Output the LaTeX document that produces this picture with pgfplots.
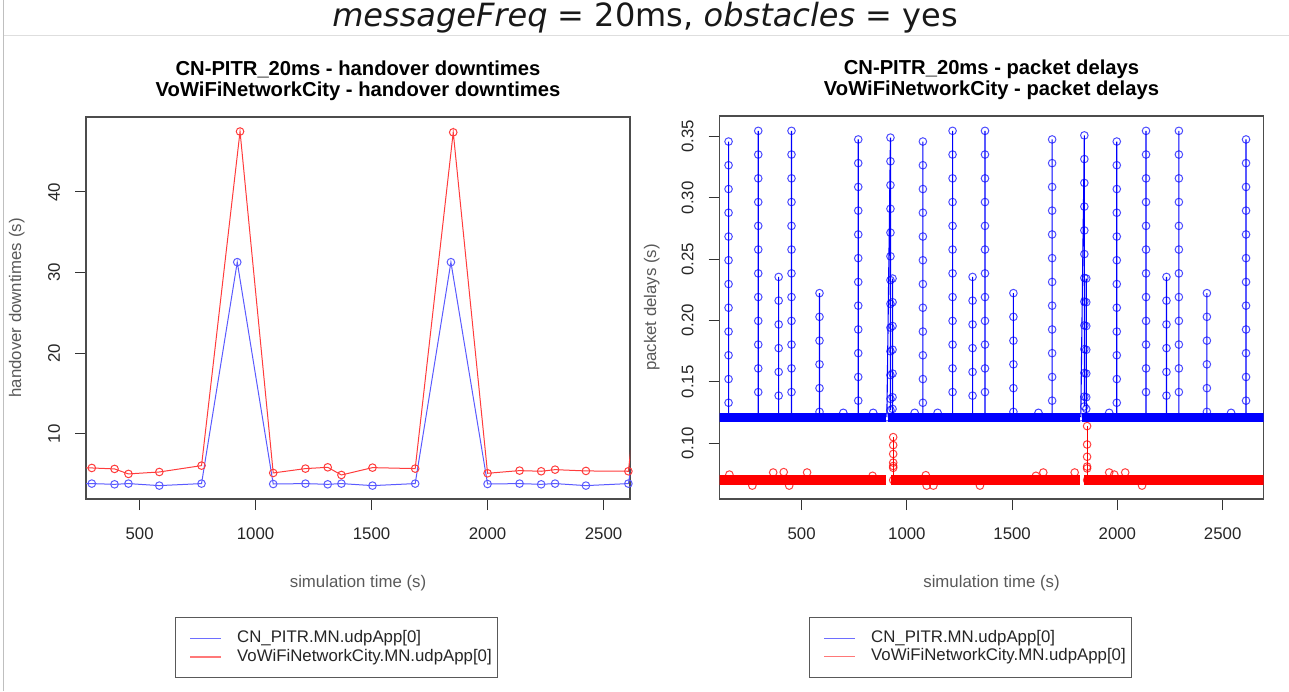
\documentclass[border=0pt]{standalone}
\usepackage{pgfplots}
\pgfplotsset{compat=1.18}
\usepackage{fontspec}
\setmainfont{Liberation Sans}
\newfontfamily\titlefont{DejaVu Sans}[ItalicFont={DejaVu Sans Oblique}]
\definecolor{rblue}{RGB}{0,0,255}
\definecolor{rred}{RGB}{255,0,0}
\definecolor{lblue}{RGB}{90,90,255}
\definecolor{lred}{RGB}{255,60,60}
\definecolor{legblue}{RGB}{110,110,255}
\definecolor{legred}{RGB}{255,120,120}
\pgfplotsset{
 rplot/.style={
  scale only axis, width=544pt, anchor=south west,
  tick pos=left, tick align=outside, major tick length=11pt,
  tick style={black!80, line width=1pt},
  axis line style={black!70, line width=1.2pt},
  scaled ticks=false,
  /pgf/number format/assume math mode=true,
  /pgf/number format/1000 sep={},
  tick label style={font=\fontsize{16.8}{20}\selectfont, text=black!85},
  xticklabel style={anchor=center}, xticklabel shift=24pt,
  yticklabel style={rotate=90, anchor=center}, yticklabel shift=21pt,
  label style={font=\fontsize{16.8}{20}\selectfont, text=black!65},
  title style={font=\fontsize{20.2}{21}\selectfont\bfseries, align=center, anchor=center},
  xtick={500,1000,1500,2000,2500},
  legend image code/.code={\path (-8.3pt,0pt); \draw[##1] (0pt,0pt) -- (31pt,0pt);},
  legend cell align=left,
  legend style={anchor=north west, draw=black!65, line width=0.9pt, inner xsep=6pt, inner ysep=12.6pt, row sep=2.6pt,
    font=\fontsize{16.8}{19}\selectfont, text=black!85,
    nodes={inner sep=0pt, text height=12.2pt, text depth=3.6pt},
    /tikz/every odd column/.append style={column sep=15pt}},
  unbounded coords=jump,
 }
}
\begin{document}
\begin{tikzpicture}
\path[use as bounding box] (0,0) rectangle (1289pt,691pt);
\draw[black!25, line width=1pt] (3pt,0pt) -- (3pt,691pt);
\draw[black!13, line width=1pt] (3.5pt,655pt) -- (1289pt,655pt);
\node[anchor=base, font=\titlefont\fontsize{32}{38}\selectfont, text=black!90] at (645pt,664pt) {\textit{messageFreq} = 20ms, \textit{obstacles} = yes};

% ---------------- left: handover downtimes ----------------
\begin{axis}[rplot, at={(86pt,192pt)}, height=382pt,
  xmin=269, xmax=2614, ymin=1.93, ymax=49.3, ytick={10,20,30,40},
  title={CN-PITR\_20ms - handover downtimes\\VoWiFiNetworkCity - handover downtimes},
  title style={at={(axis description cs:0.5,1.079)}},
  xlabel={simulation time (s)}, ylabel={handover downtimes (s)},
  xlabel style={at={(axis description cs:0.5,-0.219)}, anchor=center},
  ylabel style={at={(axis description cs:-0.1274,0.5)}, anchor=center},
  legend style={at={(axis description cs:0.1636,-0.3102)}}]
\addplot[forget plot, lblue, line width=1pt, mark=o, mark size=3.8pt, mark options={line width=1pt}] coordinates {
(153,3.80)(294,3.84)(392,3.75)(452,3.84)(585,3.59)(767,3.84)(921,31.3)(1076,3.79)(1215,3.84)(1311,3.75)(1370,3.84)(1504,3.59)(1688,3.84)(1842,31.3)(2000,3.79)(2138,3.84)(2231,3.75)(2291,3.84)(2424,3.59)(2607,3.84)(2765,31.3)};
\addplot[forget plot, lred, line width=1pt, mark=o, mark size=3.8pt, mark options={line width=1pt}] coordinates {
(153,5.80)(294,5.78)(392,5.66)(452,5.04)(585,5.28)(767,6.07)(933,47.5)(1076,5.16)(1215,5.70)(1311,5.86)(1370,4.91)(1504,5.82)(1688,5.70)(1852,47.4)(2000,5.12)(2138,5.45)(2231,5.37)(2291,5.57)(2424,5.41)(2607,5.37)(2770,47.5)};
\addlegendimage{legblue, line width=1.4pt}
\addlegendentry{CN\_PITR.MN.udpApp[0]}
\addlegendimage{legred, line width=1.4pt}
\addlegendentry{VoWiFiNetworkCity.MN.udpApp[0]}
\end{axis}

% ---------------- right: packet delays ----------------
\begin{axis}[rplot, at={(719.5pt,192pt)}, height=383pt,
  xmin=110, xmax=2694, ymin=0.0546, ymax=0.3666,
  ytick={0.10,0.15,0.20,0.25,0.30,0.35},
  yticklabel style={/pgf/number format/.cd, fixed, fixed zerofill, precision=2},
  title={CN-PITR\_20ms - packet delays\\VoWiFiNetworkCity - packet delays},
  title style={at={(axis description cs:0.5,1.0788)}},
  xlabel={simulation time (s)}, ylabel={packet delays (s)},
  xlabel style={at={(axis description cs:0.5,-0.2185)}, anchor=center},
  ylabel style={at={(axis description cs:-0.1246,0.5)}, anchor=center},
  legend style={at={(axis description cs:0.1645,-0.3089)}}]
% red baseline band
\addplot[forget plot, rred, line width=10pt] coordinates {
(100,0.0700)(900,0.0700)(900,nan)(926,0.0700)(1823,0.0700)(1823,nan)(1843,0.0700)(2710,0.0700)};
% red delayed bursts
\addplot[forget plot, rred, line width=1pt, mark=o, mark size=3.8pt, mark options={line width=1pt, opacity=0.75}] coordinates {
(935,0.0700)(935,0.1050)(935,0.0985)(935,0.0913)(935,0.0842)(935,0.0815)(935,0.0800)(935,nan)
(1856,0.0700)(1856,0.1140)(1856,0.0990)(1856,0.0890)(1856,0.0810)(1856,0.0795)};
% red scattered
\addplot[forget plot, only marks, rred, mark=o, mark size=3.8pt, mark options={line width=1pt, opacity=0.75}] coordinates {
(157,0.0745)(365,0.0762)(415,0.0765)(526,0.0762)(837,0.0735)(1090,0.0740)(1613,0.0735)(1648,0.0762)(1797,0.0762)(1961,0.0762)(1985,0.0745)(2037,0.0762)
(266,0.0655)(441,0.0655)(1094,0.0655)(1126,0.0655)(1347,0.0655)(2117,0.0655)};
% blue baseline band
\addplot[forget plot, rblue, line width=9.3pt] coordinates {
(100,0.1212)(903,0.1212)(903,nan)(911,0.1212)(1823,0.1212)(1823,nan)(1831,0.1212)(2710,0.1212)};
% blue small bumps
\addplot[forget plot, only marks, rblue, mark=o, mark size=3.8pt, mark options={line width=1pt, opacity=0.75}] coordinates {
(698,0.1248)(1037,0.1248)(1625,0.1248)(1961,0.1248)(2540,0.1248)(1146,0.1248)(840,0.1248)};
% blue delayed bursts
\addplot[forget plot, rblue, line width=1.1pt, mark=o, mark size=3.8pt, mark options={line width=1pt, opacity=0.7}] coordinates {
(153,0.1212)(153,0.3458)(153,0.3265)(153,0.3071)(153,0.2878)(153,0.2684)(153,0.2491)(153,0.2297)(153,0.2104)(153,0.1910)(153,0.1717)(153,0.1523)(153,0.1330)(153,nan)
(294,0.1212)(294,0.3545)(294,0.3352)(294,0.3158)(294,0.2965)(294,0.2771)(294,0.2578)(294,0.2384)(294,0.2191)(294,0.1997)(294,0.1804)(294,0.1610)(294,0.1417)(294,nan)
(391,0.1212)(391,0.2355)(391,0.2162)(391,0.1968)(391,0.1775)(391,0.1581)(391,0.1388)(391,nan)
(452,0.1212)(452,0.3545)(452,0.3352)(452,0.3158)(452,0.2965)(452,0.2771)(452,0.2578)(452,0.2384)(452,0.2191)(452,0.1997)(452,0.1804)(452,0.1610)(452,0.1417)(452,nan)
(585,0.1212)(585,0.2223)(585,0.2030)(585,0.1836)(585,0.1643)(585,0.1449)(585,0.1256)(585,nan)
(769,0.1212)(769,0.3475)(769,0.3282)(769,0.3088)(769,0.2895)(769,0.2701)(769,0.2508)(769,0.2314)(769,0.2121)(769,0.1927)(769,0.1734)(769,0.1540)(769,0.1347)(769,nan)
(905,0.1212)(922,0.3490)(922,0.3297)(922,0.3103)(922,0.2910)(922,0.2716)(922,0.2523)(922,0.2329)(922,0.2136)(922,0.1942)(922,0.1749)(922,0.1555)(922,0.1362)(922,0.1270)(922,nan)
(932,0.1212)(932,0.2342)(932,0.2149)(932,0.1955)(932,0.1762)(932,0.1568)(932,0.1375)(932,0.1280)(932,nan)
(1076,0.1212)(1076,0.3458)(1076,0.3265)(1076,0.3071)(1076,0.2878)(1076,0.2684)(1076,0.2491)(1076,0.2297)(1076,0.2104)(1076,0.1910)(1076,0.1717)(1076,0.1523)(1076,0.1330)(1076,nan)
(1217,0.1212)(1217,0.3545)(1217,0.3352)(1217,0.3158)(1217,0.2965)(1217,0.2771)(1217,0.2578)(1217,0.2384)(1217,0.2191)(1217,0.1997)(1217,0.1804)(1217,0.1610)(1217,0.1417)(1217,nan)
(1312,0.1212)(1312,0.2355)(1312,0.2162)(1312,0.1968)(1312,0.1775)(1312,0.1581)(1312,0.1388)(1312,nan)
(1371,0.1212)(1371,0.3545)(1371,0.3352)(1371,0.3158)(1371,0.2965)(1371,0.2771)(1371,0.2578)(1371,0.2384)(1371,0.2191)(1371,0.1997)(1371,0.1804)(1371,0.1610)(1371,0.1417)(1371,nan)
(1506,0.1212)(1506,0.2223)(1506,0.2030)(1506,0.1836)(1506,0.1643)(1506,0.1449)(1506,0.1256)(1506,nan)
(1690,0.1212)(1690,0.3475)(1690,0.3282)(1690,0.3088)(1690,0.2895)(1690,0.2701)(1690,0.2508)(1690,0.2314)(1690,0.2121)(1690,0.1927)(1690,0.1734)(1690,0.1540)(1690,0.1347)(1690,nan)
(1826,0.1212)(1843,0.3508)(1843,0.3315)(1843,0.3121)(1843,0.2928)(1843,0.2734)(1843,0.2541)(1843,0.2347)(1843,0.2154)(1843,0.1960)(1843,0.1767)(1843,0.1573)(1843,0.1380)(1843,0.1300)(1843,nan)
(1852,0.1212)(1852,0.2342)(1852,0.2149)(1852,0.1955)(1852,0.1762)(1852,0.1568)(1852,0.1375)(1852,0.1280)(1852,nan)
(1997,0.1212)(1997,0.3458)(1997,0.3265)(1997,0.3071)(1997,0.2878)(1997,0.2684)(1997,0.2491)(1997,0.2297)(1997,0.2104)(1997,0.1910)(1997,0.1717)(1997,0.1523)(1997,0.1330)(1997,nan)
(2136,0.1212)(2136,0.3545)(2136,0.3352)(2136,0.3158)(2136,0.2965)(2136,0.2771)(2136,0.2578)(2136,0.2384)(2136,0.2191)(2136,0.1997)(2136,0.1804)(2136,0.1610)(2136,0.1417)(2136,nan)
(2233,0.1212)(2233,0.2355)(2233,0.2162)(2233,0.1968)(2233,0.1775)(2233,0.1581)(2233,0.1388)(2233,nan)
(2292,0.1212)(2292,0.3545)(2292,0.3352)(2292,0.3158)(2292,0.2965)(2292,0.2771)(2292,0.2578)(2292,0.2384)(2292,0.2191)(2292,0.1997)(2292,0.1804)(2292,0.1610)(2292,0.1417)(2292,nan)
(2425,0.1212)(2425,0.2223)(2425,0.2030)(2425,0.1836)(2425,0.1643)(2425,0.1449)(2425,0.1256)(2425,nan)
(2611,0.1212)(2611,0.3475)(2611,0.3282)(2611,0.3088)(2611,0.2895)(2611,0.2701)(2611,0.2508)(2611,0.2314)(2611,0.2121)(2611,0.1927)(2611,0.1734)(2611,0.1540)(2611,0.1347)};
\addlegendimage{legblue, line width=1.4pt}
\addlegendentry{CN\_PITR.MN.udpApp[0]}
\addlegendimage{legred, line width=1.4pt}
\addlegendentry{VoWiFiNetworkCity.MN.udpApp[0]}
\end{axis}
\end{tikzpicture}
\end{document}
